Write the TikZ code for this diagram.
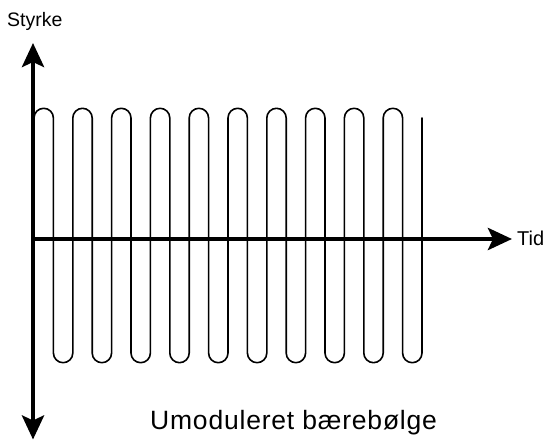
\documentclass[tikz,border=0pt]{standalone}
\usepackage{fontspec}
\setmainfont{Liberation Sans}
\usepackage{tikz}
\usetikzlibrary{arrows.meta, positioning}

\begin{document}
\begin{tikzpicture}[x=1pt, y=1pt,
  axisline/.style={line width=4.5pt, -{Stealth[length=24pt, width=22pt, inset=5pt]}},
  waveline/.style={line width=1.6pt, line join=round, line cap=round},
  axlabel/.style={anchor=base west, inner sep=0pt, font=\fontsize{19.5}{22}\selectfont}]
  \useasboundingbox (0,0) rectangle (547,440);
  % axes: origin at (33,201), 1pt = 1px of the reference
  \coordinate (origin) at (33,201);
  \coordinate (ytop) at (33,397);
  \coordinate (ybot) at (33,0.5);
  \coordinate (xend) at (512,201);
  % carrier wave: 21 legs, 19.4 apart, arches r = 9.7
  \draw[waveline] (34,322)
    \foreach \k in {0,...,9} {
      arc[start angle=180, end angle=0, radius=9.7] -- ++(0,-235)
      arc[start angle=180, end angle=360, radius=9.7] -- ++(0,235)
    };
  \draw[axisline] (origin) -- (ytop);
  \draw[axisline] (origin) -- (ybot);
  \draw[axisline] (origin) -- (xend);
  \node[axlabel] (styrke) at (7,413.3) {Styrke};
  \node[axlabel, font=\fontsize{20}{22}\selectfont] (tid) at (517,194) {Tid};
  \node[anchor=base west, inner sep=0pt,
        font=\fontsize{26.5}{30}\selectfont\addfontfeature{LetterSpace=3}] (caption) at (150,11)
    {Umoduleret bærebølge};
\end{tikzpicture}
\end{document}
